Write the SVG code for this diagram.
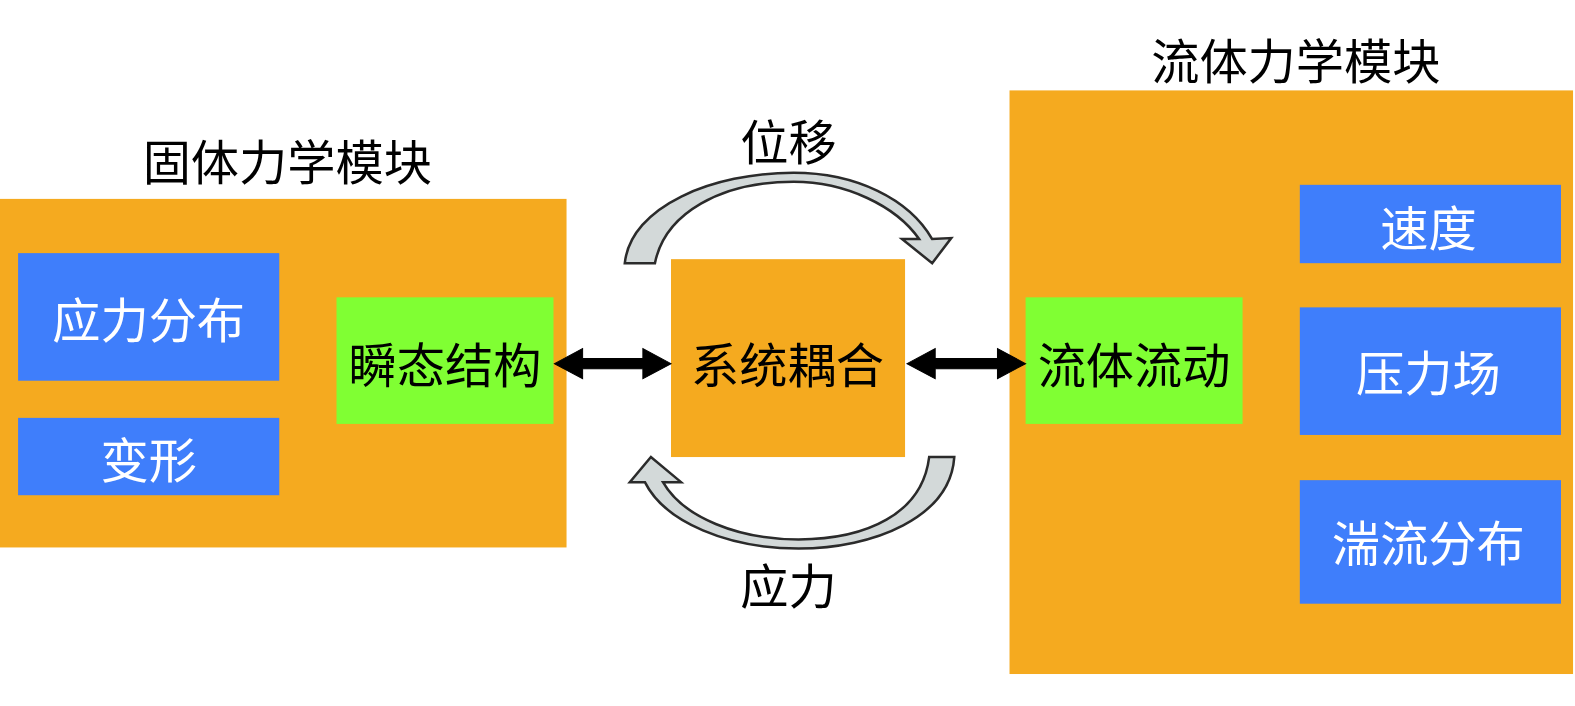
<svg xmlns="http://www.w3.org/2000/svg" width="1575" height="706" viewBox="0 0 1575 706">
<style>
.org{fill:#F5AA1F}
.blu{fill:#3F7EFB}
.grn{fill:#80FF33}
text{font-family:"Noto Sans CJK SC","Noto Sans CJK TC",sans-serif;font-size:48px;text-anchor:middle;dominant-baseline:central}
.w{fill:#ffffff}
.k{fill:#000000}
.curve{fill:#D3D9D9;stroke:#2b2b2b;stroke-width:2.5;stroke-linejoin:miter}
.dbl{fill:#000000;stroke:#000;stroke-width:1}
</style>
<rect width="1575" height="706" fill="#ffffff"/>
<g transform="scale(1.0045)">
<g id="solid-module">
<rect class="org" x="0" y="198" width="564" height="347"/>
<text class="k" x="286" y="158">固体力学模块</text>
</g>
<g id="stress-dist">
<rect class="blu" x="18" y="252" width="260" height="127"/>
<text class="w" x="148" y="316">应力分布</text>
</g>
<g id="deform">
<rect class="blu" x="18" y="416" width="260" height="77"/>
<text class="w" x="148" y="455">变形</text>
</g>
<g id="transient">
<rect class="grn" x="335" y="296" width="216" height="126"/>
<text class="k" x="443" y="360">瞬态结构</text>
</g>
<g id="coupling">
<rect class="org" x="668" y="258" width="233" height="197"/>
<text class="k" x="784" y="360">系统耦合</text>
</g>
<g id="fluid-module">
<rect class="org" x="1005" y="90" width="561" height="581"/>
<text class="k" x="1290" y="58">流体力学模块</text>
</g>
<g id="fluid-flow">
<rect class="grn" x="1021" y="296" width="216" height="126"/>
<text class="k" x="1129" y="360">流体流动</text>
</g>
<g id="velocity">
<rect class="blu" x="1294" y="184" width="260" height="78"/>
<text class="w" x="1422" y="224">速度</text>
</g>
<g id="pressure">
<rect class="blu" x="1294" y="306" width="260" height="127"/>
<text class="w" x="1422" y="368">压力场</text>
</g>
<g id="turbulence">
<rect class="blu" x="1294" y="478" width="260" height="123"/>
<text class="w" x="1422" y="538">湍流分布</text>
</g>
<g id="connectors">
<path class="dbl" d="M552,362 L580,347 L580,357 L640,357 L640,347 L668,362 L640,377 L640,367 L580,367 L580,377 Z"/>
<path class="dbl" d="M903,362 L931,347 L931,357 L993,357 L993,347 L1021,362 L993,377 L993,367 L931,367 L931,377 Z"/>
<path class="curve" d="M622,262 C628,205 710,172 790,172 C852,172 905,198 928,238 L947,237 L928,262 L898,238 L915,238 C892,205 842,181 790,181 C718,181 662,212 652,262 Z"/>
<text class="k" x="785" y="138">位移</text>
<path class="curve" d="M950,455 C946,515 870,546 795,546 C725,546 662,520 642,480 L627,480 L648,455 L678,480 L660,480 C680,515 735,537 795,537 C862,537 918,512 925,455 Z"/>
<text class="k" x="785" y="580">应力</text>
</g>
</g>
</svg>
